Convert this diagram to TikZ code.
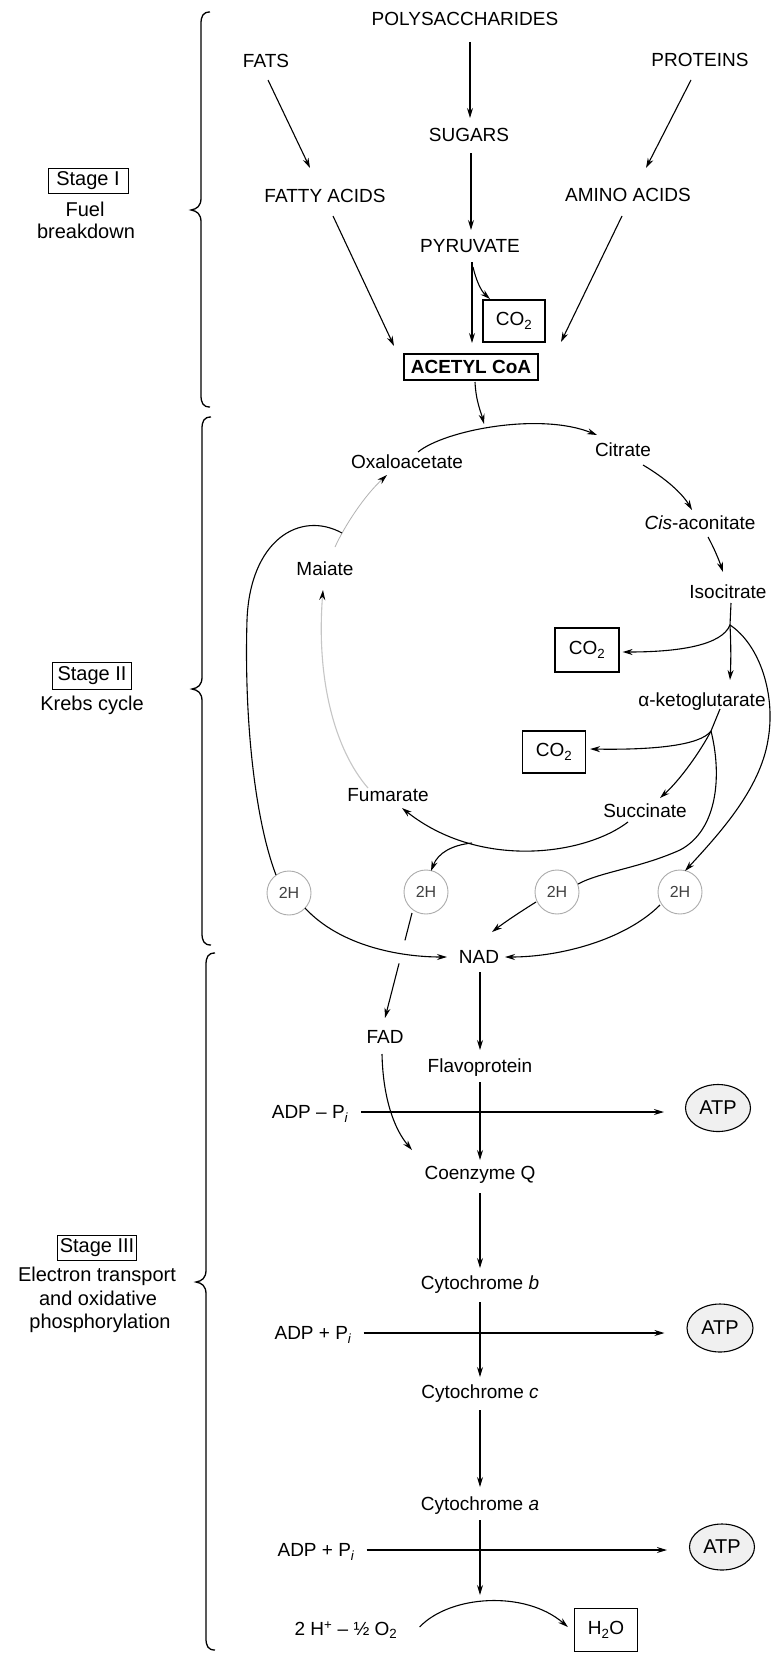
\documentclass[tikz,border=0pt]{standalone}
\usepackage{fontspec}
\setmainfont{Liberation Sans}
\usetikzlibrary{arrows.meta,shapes.geometric,calc}
\begin{document}
\begin{tikzpicture}[x=1pt,y=-1pt,
  lbl/.style={font=\fontsize{19}{22}\selectfont, inner sep=0pt},
  side/.style={font=\fontsize{20}{23}\selectfont, inner sep=0pt},
  bx/.style={draw, line width=1.2pt, inner sep=0pt},
  arr/.style={line width=1.1pt, -{Stealth[length=10pt,width=6pt]}},
  ln/.style={line width=1.1pt},
  hh/.style={circle, draw=gray!65, line width=0.9pt, minimum size=44pt, inner sep=0pt, font=\fontsize{16}{18}\selectfont, text=black!75},
  atp/.style={ellipse, draw, line width=1.1pt, fill=gray!12, inner sep=0pt, font=\fontsize{20}{22}\selectfont},
  stagebox/.style={side, draw, line width=1pt},
  brace/.style={line width=1.3pt}
]
\fill[white] (0,0) rectangle (773,1654);
\useasboundingbox (0,0) rectangle (773,1654);

% ---------- Stage labels ----------
\node[stagebox, minimum width=80pt, minimum height=25pt] (s1) at (88,181) {Stage I};
\node[side, anchor=base] (s1a) at (85,216) {Fuel};
\node[side, anchor=base] (s1b) at (86,238) {breakdown};
\node[stagebox, minimum width=79pt, minimum height=27pt] (s2) at (92,676) {Stage II};
\node[side, anchor=base] (s2a) at (92,710) {Krebs cycle};
\node[stagebox, minimum width=79pt, minimum height=25pt] (s3) at (97,1248) {Stage III};
\node[side, anchor=base] (s3a) at (97,1281) {Electron transport};
\node[side, anchor=base] (s3b) at (98,1305) {and oxidative};
\node[side, anchor=base] (s3c) at (100,1328) {phosphorylation};

% ---------- braces ----------
\draw[brace] (210,12) .. controls (203,12) and (201,16) .. (201,24) -- (201,198) .. controls (201,206) and (197,209) .. (191,210) .. controls (197,211) and (201,214) .. (201,222) -- (201,395) .. controls (201,403) and (203,407) .. (210,407);
\draw[brace] (211,417) .. controls (204,417) and (202,421) .. (202,429) -- (202,677) .. controls (202,685) and (198,688) .. (192,689) .. controls (198,690) and (202,693) .. (202,701) -- (202,933) .. controls (202,941) and (204,945) .. (211,945);
\draw[brace] (215,953) .. controls (208,953) and (206,957) .. (206,965) -- (206,1270) .. controls (206,1278) and (202,1281) .. (196,1282) .. controls (202,1283) and (206,1286) .. (206,1294) -- (206,1638) .. controls (206,1646) and (208,1650) .. (215,1650);

% ---------- Stage I nodes ----------
\node[lbl] (poly) at (465,19) {POLYSACCHARIDES};
\node[lbl] (fats) at (266,61) {FATS};
\node[lbl] (prot) at (700,60) {PROTEINS};
\node[lbl] (sug) at (469,135) {SUGARS};
\node[lbl] (fa) at (325,196) {FATTY ACIDS};
\node[lbl] (aa) at (628,195) {AMINO ACIDS};
\node[lbl] (pyr) at (470,246) {PYRUVATE};
\node[lbl, bx, minimum width=62pt, minimum height=42pt] (co2a) at (514,321) {CO\textsubscript{2}};
\node[bx, line width=1.6pt, minimum width=134pt, minimum height=26pt, font=\fontsize{19}{22}\selectfont\bfseries] (acoa) at (471,367) {ACETYL CoA};

% ---------- Krebs cycle nodes ----------
\node[lbl] (cit) at (623,450) {Citrate};
\node[lbl] (oxa) at (407,462) {Oxaloacetate};
\node[lbl] (cis) at (700,523) {\textit{Cis}-aconitate};
\node[lbl] (mal) at (325,569) {Maiate};
\node[lbl] (iso) at (728,592) {Isocitrate};
\node[lbl, bx, minimum width=64pt, minimum height=44pt] (co2b) at (587,650) {CO\textsubscript{2}};
\node[lbl] (akg) at (702,702) {α-ketoglutarate};
\node[lbl, bx, minimum width=63pt, minimum height=42pt] (co2c) at (554,752) {CO\textsubscript{2}};
\node[lbl] (fum) at (388,795) {Fumarate};
\node[lbl] (suc) at (645,811) {Succinate};

\node[hh] (h1) at (289,893) {2H};
\node[hh] (h2) at (426,892) {2H};
\node[hh] (h3) at (557,892) {2H};
\node[hh] (h4) at (680,892) {2H};

% ---------- Stage III nodes ----------
\node[lbl] (nad) at (479,957) {NAD};
\node[lbl] (fad) at (385,1037) {FAD};
\node[lbl] (flav) at (480,1068) {Flavoprotein};
\node[lbl] (adp1) at (310,1114) {ADP – P\textsubscript{\itshape i}};
\node[atp, minimum width=65pt, minimum height=47pt] (atp1) at (718,1108) {ATP};
\node[lbl] (coq) at (480,1175) {Coenzyme Q};
\node[lbl] (cytb) at (480,1285) {Cytochrome \textit{b}};
\node[lbl] (adp2) at (313,1335) {ADP + P\textsubscript{\itshape i}};
\node[atp, minimum width=66pt, minimum height=48pt] (atp2) at (720,1328) {ATP};
\node[lbl] (cytc) at (480,1394) {Cytochrome \textit{c}};
\node[lbl] (cyta) at (480,1506) {Cytochrome \textit{a}};
\node[lbl] (adp3) at (316,1552) {ADP + P\textsubscript{\itshape i}};
\node[atp, minimum width=65pt, minimum height=46pt] (atp3) at (722,1547) {ATP};
\node[lbl] (hpl) at (346,1630) {2 H\textsuperscript{+} – ½ O\textsubscript{2}};
\node[lbl, bx, minimum width=63pt, minimum height=43pt] (h2o) at (606,1630) {H\textsubscript{2}O};

% ---------- Stage I connectors ----------
\draw[arr] ($(poly)+(5,23)$) -- ($(sug)+(1,-17)$);
\draw[arr] ($(fats)+(2,19)$) -- ($(fa)+(-15,-28)$);
\draw[arr] ($(prot)+(-9,20)$) -- ($(aa)+(18,-27)$);
\draw[arr] ($(sug)+(2,18)$) -- ($(pyr)+(1,-16)$);
\draw[arr] ($(fa)+(8,20)$) -- ($(acoa)+(-77,-21)$);
\draw[arr] ($(aa)+(-6,21)$) -- ($(acoa)+(90,-25)$);
\draw[arr] ($(pyr)+(2,16)$) -- ($(acoa)+(1,-24)$);
\draw[arr] ($(pyr)+(3,21)$) .. controls ($(pyr)+(6,34)$) and ($(co2a)+(-33,-30)$) .. ($(co2a)+(-24,-22)$);

% ---------- Krebs cycle connectors ----------
\coordinate (top) at (484,424);
\draw[arr] ($(acoa)+(4,15)$) .. controls ($(acoa)+(5,35)$) and ($(acoa)+(10,45)$) .. (top);
\draw[arr] ($(oxa)+(11,-10)$) .. controls (445,430) and (540,412) .. ($(cit)+(-26,-15)$);
\draw[arr] ($(cit)+(20,15)$) .. controls (665,478) and (682,493) .. ($(cis)+(-8,-13)$);
\draw[arr] ($(cis)+(8,14)$) .. controls (714,548) and (719,560) .. ($(iso)+(-5,-20)$);
\coordinate (b1) at (730,625);
\draw[ln] ($(iso)+(3,11)$) -- (b1);
\draw[arr] (b1) .. controls (722,645) and (680,652) .. ($(co2b.east)+(3,2)$);
\draw[arr] (b1) .. controls (731,645) and (731,662) .. ($(akg)+(28,-22)$);
\draw[arr] (b1) .. controls (760,645) and (776,695) .. (768,740) .. controls (760,790) and (718,835) .. ($(h4)+(5,-21)$);
\coordinate (b2) at (711,731);
\draw[ln] ($(akg)+(18,7)$) -- (b2);
\draw[arr] (b2) .. controls (700,746) and (650,750) .. ($(co2c.east)+(4,-3)$);
\draw[arr] (b2) .. controls (700,752) and (680,780) .. ($(suc)+(15,-13)$);
\draw[ln] (b2) .. controls (722,775) and (718,830) .. (680,850) .. controls (640,868) and (600,872) .. ($(h3)+(21,-8)$);
\draw[arr] ($(suc)+(-17,11)$) .. controls (585,855) and (480,870) .. ($(fum)+(14,13)$);
\coordinate (b3) at (472,843);
\draw[arr] (b3) .. controls (452,845) and (438,853) .. ($(h2)+(5,-21)$);
\draw[line width=1.1pt, draw=gray!45, -{Stealth[length=10pt,width=6pt,color=black]}] ($(fum)+(-20,-7)$) .. controls (335,750) and (316,680) .. ($(mal)+(-2,21)$);
\draw[line width=0.8pt, draw=gray!60, -{Stealth[length=10pt,width=6pt,color=black]}] ($(mal)+(10,-22)$) .. controls (345,525) and (365,495) .. ($(oxa)+(-20,13)$);
\coordinate (mo) at (342,533);
\draw[ln] (mo) .. controls (300,510) and (250,540) .. (247,620) .. controls (244,720) and (255,820) .. ($(h1)+(-13,-18)$);

% ---------- to NAD / FAD ----------
\coordinate (fs) at ($(h2)+(-14,21)$);
\coordinate (fe) at ($(fad)+(0,-19)$);
\draw[ln] (fs) -- ($(fs)!0.26!(fe)$);
\draw[arr] ($(fs)!0.48!(fe)$) -- (fe);
\draw[arr] ($(h1)+(16,15)$) .. controls (340,946) and (400,957) .. ($(nad)+(-32,0)$);
\draw[arr] ($(h3)+(-21,10)$) .. controls (520,912) and (505,922) .. ($(nad)+(13,-25)$);
\draw[arr] ($(h4)+(-20,13)$) .. controls (625,940) and (560,957) .. ($(nad)+(26,0)$);

% ---------- electron transport chain ----------
\draw[arr] ($(nad)+(1,15)$) -- ($(flav)+(0,-18)$);
\draw[arr] ($(flav)+(0,14)$) -- ($(coq)+(0,-15)$);
\draw[arr] ($(fad)+(-3,17)$) .. controls (383,1100) and (395,1130) .. ($(coq)+(-68,-25)$);
\draw[arr] ($(coq)+(0,18)$) -- ($(cytb)+(0,-17)$);
\draw[arr] ($(cytb)+(0,17)$) -- ($(cytc)+(0,-17)$);
\draw[arr] ($(cytc)+(0,16)$) -- ($(cyta)+(0,-19)$);
\draw[arr] ($(cyta)+(0,14)$) -- ($(cyta)+(0,89)$);
\draw[arr] ($(adp1.east)+(13,-2)$) -- ($(atp1.west)+(-21,4)$);
\draw[arr] ($(adp2.east)+(12,-2)$) -- ($(atp2.west)+(-22,5)$);
\draw[arr] ($(adp3.east)+(12,-2)$) -- ($(atp3.west)+(-22,3)$);
\draw[arr] ($(hpl.east)+(22,-3)$) .. controls (450,1595) and (525,1590) .. ($(h2o.west)+(-6,-3)$);
\end{tikzpicture}
\end{document}
